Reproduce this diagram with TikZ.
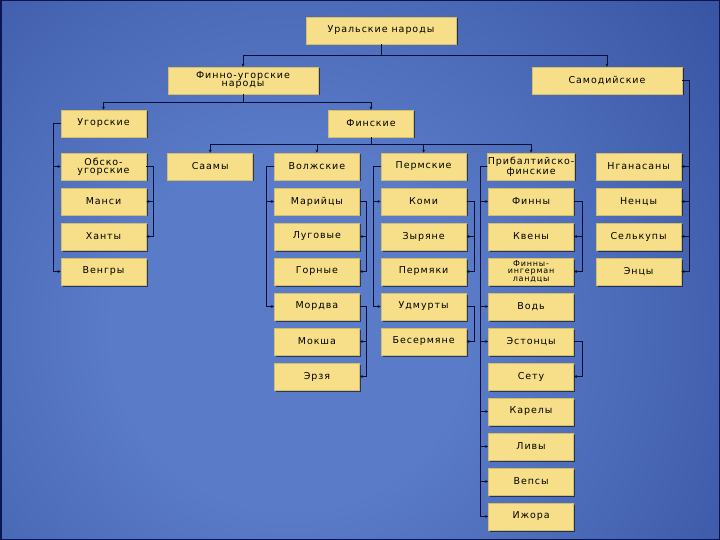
\documentclass[tikz,border=0pt]{standalone}
\usepackage{fontspec}
\usepackage{xcolor}
\usepackage{tikz}
\usetikzlibrary{positioning,arrows.meta,shadows}

\newfontfamily\boxfont[LetterSpace=10]{DejaVu Sans}

\definecolor{boxfill}{HTML}{F6DF88}
\definecolor{boxedge}{HTML}{D4BE68}
\definecolor{linecol}{HTML}{0A0F35}
\definecolor{bgin}{HTML}{5A7BC8}
\definecolor{bgmid}{HTML}{34509F}
\definecolor{bgout}{HTML}{101D5E}
\definecolor{framecol}{HTML}{0B1650}

\pgfdeclareradialshading{bgglow}{\pgfpoint{0bp}{0bp}}{%
  color(0bp)=(bgin); color(8bp)=(bgin); color(26bp)=(bgmid); color(44bp)=(bgout); color(50bp)=(bgout)}

\begin{document}
\begin{tikzpicture}[
    x=1pt, y=-1pt,
    node distance=7.2pt and 20.9pt,
    box/.style={
        rectangle,
        draw=boxedge,
        line width=0.8pt,
        fill=boxfill,
        align=center,
        minimum width=85pt,
        minimum height=27pt,
        inner sep=0pt,
        drop shadow={shadow xshift=1.5pt, shadow yshift=-1.5pt, fill=black, opacity=0.55},
        font=\boxfont\fontsize{9.5}{8}\selectfont
    },
    widebox/.style={
        box,
        minimum width=150pt
    },
    tightbox/.style={
        box,
        font=\boxfont\fontsize{8}{7.5}\selectfont
    },
    arrow/.style={
        -{Stealth[length=3pt,width=3pt]},
        line width=0.8pt,
        draw=linecol
    }
]
\useasboundingbox (0,0) rectangle (720,540);

% Background
\begin{scope}
  \clip (0,0) rectangle (720,540);
  \shade[shading=bgglow] (290,330) circle (560);
\end{scope}
\draw[framecol, line width=1.5pt] (0.75,0.75) rectangle (719.25,539.25);

% Top levels
\node[widebox] (ural) at (381,30.5) {Уральские народы};
\node[widebox] (fu) at (243,80.5) {Финно-угорские\\народы};
\node[widebox] (samod) at (607,80.5) {Самодийские};
\node[box] (ugor) at (103.5,123.5) {Угорские};
\node[box] (fin) at (371,123.5) {Финские};

% Row of groups
\node[box, below=15.2pt of ugor] (obsk) {Обско-\\угорские};
\node[box, right=of obsk] (saam) {Саамы};
\node[box, right=of saam] (volzh) {Волжские};
\node[box, right=of volzh] (perm) {Пермские};
\node[box, right=of perm] (prib) {Прибалтийско-\\финские};
\node[box, right=of prib] (ngan) {Нганасаны};

% Ugric column
\node[box, below=of obsk] (mansi) {Манси};
\node[box, below=of mansi] (khanty) {Ханты};
\node[box, below=of khanty] (veng) {Венгры};

% Volga column
\node[box, below=of volzh] (mari) {Марийцы};
\node[box, below=of mari] (lug) {Луговые};
\node[box, below=of lug] (gorn) {Горные};
\node[box, below=of gorn] (mord) {Мордва};
\node[box, below=of mord] (moksh) {Мокша};
\node[box, below=of moksh] (erz) {Эрзя};

% Permic column
\node[box, below=of perm] (komi) {Коми};
\node[box, below=of komi] (zyr) {Зыряне};
\node[box, below=of zyr] (permy) {Пермяки};
\node[box, below=of permy] (udm) {Удмурты};
\node[box, below=of udm] (beser) {Бесермяне};

% Baltic-Finnic column
\node[box, below=of prib] (finny) {Финны};
\node[box, below=of finny] (kven) {Квены};
\node[tightbox, below=of kven] (ingr) {Финны-\\ингерман\\ландцы};
\node[box, below=of ingr] (vod) {Водь};
\node[box, below=of vod] (eston) {Эстонцы};
\node[box, below=of eston] (setu) {Сету};
\node[box, below=of setu] (karel) {Карелы};
\node[box, below=of karel] (liv) {Ливы};
\node[box, below=of liv] (veps) {Вепсы};
\node[box, below=of veps] (izh) {Ижора};

% Samoyedic column
\node[box, below=of ngan] (nenc) {Ненцы};
\node[box, below=of nenc] (selk) {Селькупы};
\node[box, below=of selk] (enc) {Энцы};

% Connections: top buses
\draw[arrow] (ural.south) -- ++(0,11) -| (fu.north);
\draw[arrow] (ural.south) -- ++(0,11) -| (samod.north);
\draw[arrow] (fu.south) -- ++(0,8) -| (ugor.north);
\draw[arrow] (fu.south) -- ++(0,8) -| (fin.north);
\draw[arrow] (fin.south) -- ++(0,7.5) -| (saam.north);
\draw[arrow] (fin.south) -- ++(0,7.5) -| (volzh.north);
\draw[arrow] (fin.south) -- ++(0,7.5) -| (perm.north);
\draw[arrow] (fin.south) -- ++(0,7.5) -| (prib.north);

% Connections: Ugric
\draw[arrow] (ugor.west) -- ++(-7,0) |- (obsk.west);
\draw[arrow] (ugor.west) -- ++(-7,0) |- (veng.west);
\draw[arrow] (obsk.east) -- ++(7,0) |- (mansi.east);
\draw[arrow] (obsk.east) -- ++(7,0) |- (khanty.east);

% Connections: Volga
\draw[arrow] (volzh.west) -- ++(-8,0) |- (mari.west);
\draw[arrow] (volzh.west) -- ++(-8,0) |- (mord.west);
\draw[arrow] (mari.east) -- ++(7,0) |- (lug.east);
\draw[arrow] (mari.east) -- ++(7,0) |- (gorn.east);
\draw[arrow] (mord.east) -- ++(7,0) |- (moksh.east);
\draw[arrow] (mord.east) -- ++(7,0) |- (erz.east);

% Connections: Permic
\draw[arrow] (perm.west) -- ++(-7,0) |- (komi.west);
\draw[arrow] (perm.west) -- ++(-7,0) |- (udm.west);
\draw[arrow] (komi.east) -- ++(8,0) |- (zyr.east);
\draw[arrow] (komi.east) -- ++(8,0) |- (permy.east);
\draw[arrow] (udm.east) -- ++(8,0) |- (beser.east);

% Connections: Baltic-Finnic
\draw[arrow] (prib.west) -- ++(-7,0) |- (finny.west);
\draw[arrow] (prib.west) -- ++(-7,0) |- (vod.west);
\draw[arrow] (prib.west) -- ++(-7,0) |- (eston.west);
\draw[arrow] (prib.west) -- ++(-7,0) |- (karel.west);
\draw[arrow] (prib.west) -- ++(-7,0) |- (liv.west);
\draw[arrow] (prib.west) -- ++(-7,0) |- (veps.west);
\draw[arrow] (prib.west) -- ++(-7,0) |- (izh.west);
\draw[arrow] (finny.east) -- ++(8,0) |- (kven.east);
\draw[arrow] (finny.east) -- ++(8,0) |- (ingr.east);
\draw[arrow] (eston.east) -- ++(8,0) |- (setu.east);

% Connections: Samoyedic
\draw[arrow] (samod.east) -- ++(7,0) |- (ngan.east);
\draw[arrow] (samod.east) -- ++(7,0) |- (nenc.east);
\draw[arrow] (samod.east) -- ++(7,0) |- (selk.east);
\draw[arrow] (samod.east) -- ++(7,0) |- (enc.east);

\end{tikzpicture}
\end{document}
